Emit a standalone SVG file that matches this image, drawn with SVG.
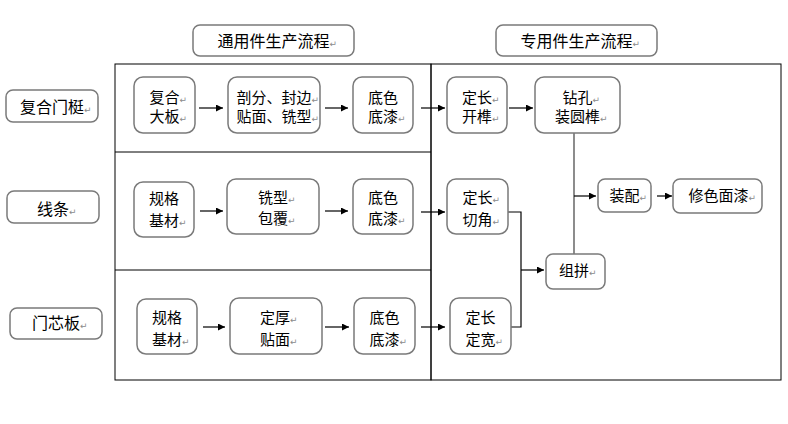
<svg xmlns="http://www.w3.org/2000/svg" width="788" height="424" viewBox="0 0 788 424">
<defs>
<style>
.bg{fill:#ffffff}
.frame{fill:none;stroke:#000;stroke-width:1}
.node{fill:#fff;stroke:#7a7a7a;stroke-width:1.5}
.t{font-family:"Noto Sans CJK SC","Noto Sans",sans-serif;font-size:15px;fill:#000}
.tl{font-family:"Noto Sans CJK SC","Noto Sans",sans-serif;font-size:16px;fill:#000}
.pm{font-family:"DejaVu Sans",sans-serif;font-size:9px;fill:#8a8a8a}
.c{fill:none;stroke:#000;stroke-width:1.2}
.cg{fill:none;stroke:#404040;stroke-width:1.2}
</style>
<marker id="ah" viewBox="0 0 10 10" refX="10" refY="5" markerWidth="8" markerHeight="7" markerUnits="userSpaceOnUse" orient="auto">
<path d="M0,0 L10,5 L0,10 Z" fill="#000"/>
</marker>
</defs>
<rect class="bg" x="0" y="0" width="788" height="424"/>

<g id="frames">
<rect class="frame" x="115" y="64" width="316" height="316"/>
<rect class="frame" x="431" y="64" width="350" height="316"/>
<line class="frame" x1="115" y1="152" x2="431" y2="152"/>
<line class="frame" x1="115" y1="270" x2="431" y2="270"/>
</g>

<g id="connectors">
<line class="c" x1="199" y1="108" x2="223" y2="108" marker-end="url(#ah)"/>
<line class="c" x1="325" y1="108" x2="348" y2="108" marker-end="url(#ah)"/>
<line class="c" x1="421" y1="108" x2="445" y2="108" marker-end="url(#ah)"/>
<line class="c" x1="509" y1="108" x2="533" y2="108" marker-end="url(#ah)"/>
<line class="c" x1="200" y1="211" x2="223" y2="211" marker-end="url(#ah)"/>
<line class="c" x1="325" y1="211" x2="348" y2="211" marker-end="url(#ah)"/>
<line class="c" x1="421" y1="212" x2="445" y2="212" marker-end="url(#ah)"/>
<line class="c" x1="203" y1="327" x2="225" y2="327" marker-end="url(#ah)"/>
<line class="c" x1="325" y1="327" x2="349" y2="327" marker-end="url(#ah)"/>
<line class="c" x1="421" y1="327" x2="445" y2="327" marker-end="url(#ah)"/>
<polyline class="c" points="508,212 521,212 521,327 511,327"/>
<line class="c" x1="521" y1="270" x2="544" y2="270" marker-end="url(#ah)"/>
<line class="cg" x1="574" y1="133" x2="574" y2="254"/>
<line class="c" x1="574" y1="196" x2="596" y2="196" marker-end="url(#ah)"/>
<line class="c" x1="657" y1="196" x2="672" y2="196" marker-end="url(#ah)"/>
</g>

<g id="title-general">
<rect class="node" x="193" y="25" width="161" height="31" rx="7"/>
<text class="tl" x="217.5" y="47">通用件生产流程<tspan class="pm">↵</tspan></text>
</g>
<g id="title-special">
<rect class="node" x="496" y="25" width="161" height="31" rx="7"/>
<text class="tl" x="520.5" y="47">专用件生产流程<tspan class="pm">↵</tspan></text>
</g>

<g id="label-fuhe">
<rect class="node" x="6" y="90" width="92" height="32" rx="7"/>
<text class="tl" x="20" y="113">复合门梃<tspan class="pm">↵</tspan></text>
</g>
<g id="label-xiantiao">
<rect class="node" x="7" y="191" width="92" height="32" rx="7"/>
<text class="tl" x="37" y="215">线条<tspan class="pm">↵</tspan></text>
</g>
<g id="label-menxinban">
<rect class="node" x="10" y="308" width="92" height="31" rx="7"/>
<text class="tl" x="32" y="329">门芯板<tspan class="pm">↵</tspan></text>
</g>

<g id="n1a">
<rect class="node" x="134" y="77" width="61" height="56" rx="9"/>
<text class="t" x="149.5" y="102.5">复合<tspan class="pm">↵</tspan></text>
<text class="t" x="149.5" y="122">大板<tspan class="pm">↵</tspan></text>
</g>
<g id="n1b">
<rect class="node" x="228" y="77" width="92" height="56" rx="9"/>
<text class="t" x="236.5" y="102.5">剖分、封边<tspan class="pm">↵</tspan></text>
<text class="t" x="236.5" y="122">贴面、铣型<tspan class="pm">↵</tspan></text>
</g>
<g id="n1c">
<rect class="node" x="353" y="77" width="60" height="56" rx="9"/>
<text class="t" x="368" y="102.5">底色</text>
<text class="t" x="368" y="122">底漆<tspan class="pm">↵</tspan></text>
</g>
<g id="n1d">
<rect class="node" x="447" y="77" width="60" height="56" rx="9"/>
<text class="t" x="462" y="102.5">定长<tspan class="pm">↵</tspan></text>
<text class="t" x="462" y="122">开榫<tspan class="pm">↵</tspan></text>
</g>
<g id="n1e">
<rect class="node" x="535" y="77" width="85" height="56" rx="9"/>
<text class="t" x="562.5" y="102.5">钻孔<tspan class="pm">↵</tspan></text>
<text class="t" x="555" y="122">装圆榫<tspan class="pm">↵</tspan></text>
</g>

<g id="n2a">
<rect class="node" x="134" y="182" width="60" height="55" rx="9"/>
<text class="t" x="149" y="203.5">规格</text>
<text class="t" x="149" y="225.5">基材<tspan class="pm">↵</tspan></text>
</g>
<g id="n2b">
<rect class="node" x="227" y="179" width="92" height="55" rx="9"/>
<text class="t" x="258" y="203">铣型<tspan class="pm">↵</tspan></text>
<text class="t" x="258" y="224">包覆<tspan class="pm">↵</tspan></text>
</g>
<g id="n2c">
<rect class="node" x="353" y="179" width="60" height="55" rx="9"/>
<text class="t" x="368" y="203">底色</text>
<text class="t" x="368" y="224">底漆<tspan class="pm">↵</tspan></text>
</g>
<g id="n2d">
<rect class="node" x="447" y="179" width="61" height="55" rx="9"/>
<text class="t" x="462.5" y="203">定长<tspan class="pm">↵</tspan></text>
<text class="t" x="462.5" y="224.5">切角<tspan class="pm">↵</tspan></text>
</g>

<g id="n-zupin">
<rect class="node" x="546" y="254" width="59" height="35" rx="7"/>
<text class="t" x="559" y="275.5">组拼<tspan class="pm">↵</tspan></text>
</g>
<g id="n-zhuangpei">
<rect class="node" x="598" y="179" width="53" height="33" rx="7"/>
<text class="t" x="609.5" y="200.5">装配<tspan class="pm">↵</tspan></text>
</g>
<g id="n-xiuse">
<rect class="node" x="673" y="179" width="89" height="34" rx="7"/>
<text class="t" x="688.5" y="200.5">修色面漆<tspan class="pm">↵</tspan></text>
</g>

<g id="n3a">
<rect class="node" x="137" y="299" width="60" height="55" rx="9"/>
<text class="t" x="152" y="322.5">规格</text>
<text class="t" x="152" y="344.5">基材<tspan class="pm">↵</tspan></text>
</g>
<g id="n3b">
<rect class="node" x="230" y="298" width="92" height="56" rx="9"/>
<text class="t" x="260" y="322.5">定厚<tspan class="pm">↵</tspan></text>
<text class="t" x="260" y="344.5">贴面<tspan class="pm">↵</tspan></text>
</g>
<g id="n3c">
<rect class="node" x="354" y="298" width="61" height="56" rx="9"/>
<text class="t" x="369.5" y="322.5">底色</text>
<text class="t" x="369.5" y="344.5">底漆<tspan class="pm">↵</tspan></text>
</g>
<g id="n3d">
<rect class="node" x="450" y="298" width="61" height="56" rx="9"/>
<text class="t" x="465.5" y="322.5">定长</text>
<text class="t" x="465.5" y="344.5">定宽<tspan class="pm">↵</tspan></text>
</g>
</svg>
